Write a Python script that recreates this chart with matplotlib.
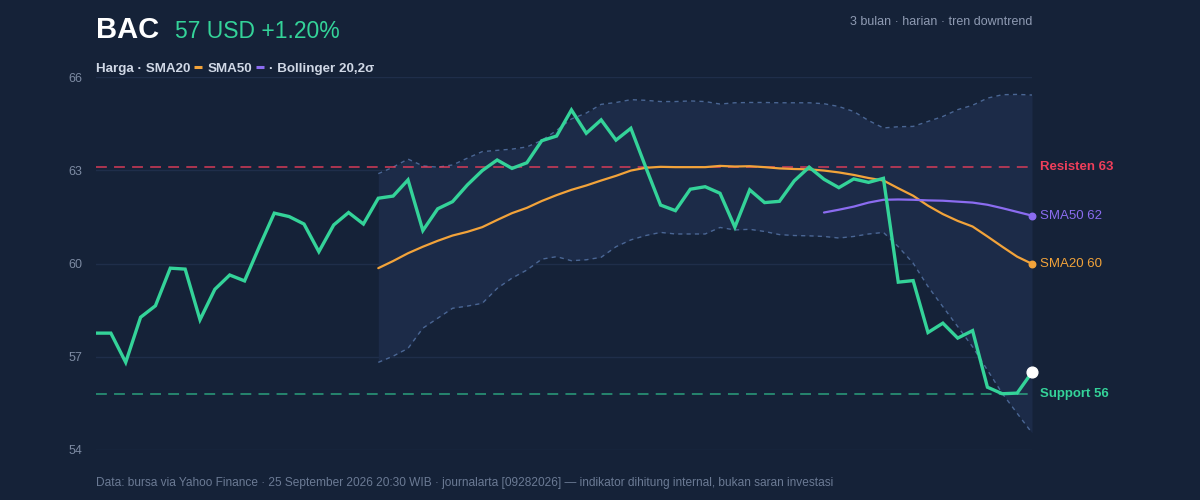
"""BAC price chart with SMA20, SMA50 and Bollinger bands."""

import matplotlib
matplotlib.use("Agg")
import matplotlib.pyplot as plt
from matplotlib.lines import Line2D
import numpy as np

plt.rcParams["font.family"] = ["Liberation Sans", "DejaVu Sans"]

# Data (64 daily closes)
price = [
    57.76, 57.76, 56.82, 58.27, 58.64, 59.85, 59.82, 58.19, 59.17, 59.63,
    59.44, 60.55, 61.62, 61.51, 61.27, 60.38, 61.24, 61.64, 61.27, 62.10,
    62.17, 62.69, 61.06, 61.76, 61.99, 62.53, 62.99, 63.33, 63.06, 63.24,
    63.95, 64.10, 64.94, 64.19, 64.62, 63.97, 64.35, 63.10, 61.88, 61.70,
    62.39, 62.47, 62.26, 61.17, 62.37, 61.96, 62.00, 62.66, 63.10, 62.71,
    62.44, 62.72, 62.61, 62.74, 59.40, 59.45, 57.78, 58.08, 57.60, 57.84,
    56.02, 55.81, 55.83, 56.50,
]
# SMA20 and Bollinger bands start at day 19
sma20 = [
    59.85, 60.08, 60.33, 60.54, 60.73, 60.90, 61.02, 61.17, 61.40, 61.62,
    61.79, 62.01, 62.20, 62.37, 62.51, 62.67, 62.82, 62.99, 63.08, 63.11,
    63.10, 63.10, 63.10, 63.14, 63.12, 63.13, 63.10, 63.06, 63.04, 63.03,
    62.99, 62.93, 62.85, 62.75, 62.67, 62.42, 62.18, 61.86, 61.59, 61.37,
    61.19, 60.87, 60.54, 60.22, 59.99,
]
bb_upper = [
    62.89, 63.10, 63.36, 63.14, 63.10, 63.17, 63.39, 63.60, 63.64, 63.68,
    63.75, 63.96, 64.28, 64.65, 64.84, 65.12, 65.18, 65.27, 65.25, 65.21,
    65.21, 65.23, 65.21, 65.13, 65.17, 65.18, 65.18, 65.17, 65.17, 65.17,
    65.14, 65.05, 64.89, 64.60, 64.36, 64.40, 64.41, 64.57, 64.73, 64.95,
    65.09, 65.32, 65.43, 65.44, 65.42,
]
bb_lower = [
    56.82, 57.02, 57.27, 57.92, 58.24, 58.56, 58.63, 58.72, 59.20, 59.53,
    59.79, 60.14, 60.22, 60.09, 60.12, 60.20, 60.54, 60.76, 60.90, 61.00,
    60.95, 60.95, 60.95, 61.16, 61.08, 61.10, 61.03, 60.93, 60.90, 60.89,
    60.87, 60.82, 60.87, 60.95, 61.00, 60.54, 60.01, 59.26, 58.61, 57.97,
    57.32, 56.57, 55.82, 55.18, 54.55,
]
# SMA50 starts at day 49
sma50 = [
    61.64, 61.73, 61.83, 61.96, 62.05, 62.06, 62.05, 62.03, 62.02, 61.99,
    61.96, 61.89, 61.78, 61.66, 61.54,
]
resistance = 63.1
support = 55.8
y_ticks = [54, 57, 60, 63, 66]

BG = "#152238"
BAND = "#1c2b48"
GRID = "#1f2e4a"
GREEN = "#34d399"
ORANGE = "#f2a33a"
PURPLE = "#8b6cf0"
RED = "#ef3e5a"
EDGE = "#4a6694"
MUTED = "#7d8ba3"


def main() -> None:
    fig = plt.figure(figsize=(12, 5), dpi=100, facecolor=BG)
    ax = fig.add_axes([0.08, 0.1, 0.78, 0.746], facecolor=BG)

    n = len(price)
    x = np.arange(n)
    x20 = x[n - len(sma20):]
    x50 = x[n - len(sma50):]

    ax.fill_between(x20, bb_lower, bb_upper, color=BAND, lw=0, zorder=1)
    ax.plot(x20, bb_upper, color=EDGE, lw=1, ls=(0, (3, 3)), zorder=2)
    ax.plot(x20, bb_lower, color=EDGE, lw=1, ls=(0, (3, 3)), zorder=2)

    ax.axhline(resistance, color=RED, lw=1.3, ls=(0, (6, 4)), alpha=0.75, zorder=2)
    ax.axhline(support, color=GREEN, lw=1.3, ls=(0, (6, 4)), alpha=0.6, zorder=2)

    ax.plot(x20, sma20, color=ORANGE, lw=1.6, zorder=3, solid_capstyle="round")
    ax.plot(x50, sma50, color=PURPLE, lw=1.6, zorder=3, solid_capstyle="round")
    ax.plot(x, price, color=GREEN, lw=2.4, zorder=4, solid_joinstyle="miter")

    ax.scatter([x20[-1]], [sma20[-1]], s=22, color=ORANGE, zorder=5, clip_on=False)
    ax.scatter([x50[-1]], [sma50[-1]], s=22, color=PURPLE, zorder=5, clip_on=False)
    ax.scatter([x[-1]], [price[-1]], s=60, color="white", zorder=6, clip_on=False)

    ax.set_xlim(0, n - 1)
    ax.set_ylim(y_ticks[0], y_ticks[-1])
    ax.set_yticks(y_ticks)
    ax.set_xticks([])
    ax.tick_params(axis="y", length=0, pad=10, labelsize=9, labelcolor=MUTED)
    ax.yaxis.grid(True, color=GRID, lw=1)
    ax.set_axisbelow(True)
    for s in ax.spines.values():
        s.set_visible(False)

    # right-hand labels
    tr = ax.get_yaxis_transform()
    lx = 1.0085
    ax.text(lx, resistance, f"Resisten {resistance:.0f}", transform=tr, color=RED,
            fontsize=9.5, weight="bold", va="center")
    ax.text(lx, sma50[-1], f"SMA50 {sma50[-1]:.0f}", transform=tr, color=PURPLE,
            fontsize=9.5, va="center")
    ax.text(lx, sma20[-1], f"SMA20 {sma20[-1]:.0f}", transform=tr, color=ORANGE,
            fontsize=9.5, va="center")
    ax.text(lx, support, f"Support {support:.0f}", transform=tr, color=GREEN,
            fontsize=9.5, weight="bold", va="center")

    # header
    W, H = 1200, 500
    rend = fig.canvas.get_renderer()
    t = fig.text(96 / W, 1 - 38 / H, "BAC", color="white", fontsize=21,
                 weight="bold", va="baseline")
    end = t.get_window_extent(rend).x1
    fig.text((end + 16) / W, 1 - 38 / H, "57 USD +1.20%", color=GREEN,
             fontsize=16.5, va="baseline")
    fig.text(1032 / W, 1 - 25 / H, "3 bulan · harian · tren downtrend",
             color="#8f9bb3", fontsize=9, ha="right", va="baseline")

    # legend line
    base = 1 - 72 / H
    xpos = 96.0
    pieces = [("Harga · SMA20", None), ("SMA50", ORANGE), ("· Bollinger 20,2σ", PURPLE)]
    for label, dash_before in pieces:
        if dash_before is not None:
            fig.add_artist(Line2D([(xpos + 4) / W, (xpos + 12) / W],
                                  [1 - 67 / H, 1 - 67 / H], color=dash_before,
                                  lw=2.2, solid_capstyle="butt",
                                  transform=fig.transFigure))
            xpos += 17
        t = fig.text(xpos / W, base, label, color="#d0d8e6", fontsize=9.6,
                     weight="bold", va="baseline")
        xpos = t.get_window_extent(rend).x1

    fig.text(96 / W, 1 - 486 / H,
             "Data: bursa via Yahoo Finance · 25 September 2026 20:30 WIB · "
             "journalarta [09282026] — indikator dihitung internal, bukan saran investasi",
             color="#6b7a94", fontsize=8.6, va="baseline")

    fig.savefig("out.png", dpi=100, facecolor=BG)


if __name__ == "__main__":
    main()
